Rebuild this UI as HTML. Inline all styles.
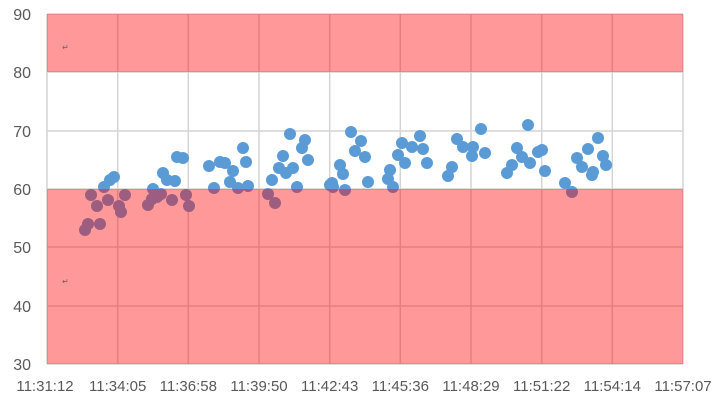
<!DOCTYPE html>
<html><head><meta charset="utf-8"><style>
html,body{margin:0;padding:0;background:#fff;}
svg{display:block;font-family:"Liberation Sans",sans-serif;}
</style></head><body>
<svg width="726" height="409" viewBox="0 0 726 409" xmlns="http://www.w3.org/2000/svg">
<g stroke="#d4d4d4" stroke-width="1.5">
<line x1="47" y1="14" x2="683" y2="14"/><line x1="47" y1="72" x2="683" y2="72"/>
<line x1="47" y1="131" x2="683" y2="131"/><line x1="47" y1="189" x2="683" y2="189"/>
<line x1="47" y1="247" x2="683" y2="247"/><line x1="47" y1="306" x2="683" y2="306"/>
<line x1="47" y1="364" x2="683" y2="364"/>
<line x1="47" y1="14" x2="47" y2="364"/><line x1="117.7" y1="14" x2="117.7" y2="364"/>
<line x1="188.3" y1="14" x2="188.3" y2="364"/><line x1="259" y1="14" x2="259" y2="364"/>
<line x1="329.7" y1="14" x2="329.7" y2="364"/><line x1="400.3" y1="14" x2="400.3" y2="364"/>
<line x1="471" y1="14" x2="471" y2="364"/><line x1="541.7" y1="14" x2="541.7" y2="364"/>
<line x1="612.3" y1="14" x2="612.3" y2="364"/><line x1="683" y1="14" x2="683" y2="364"/>
</g>
<g fill="#5b9bd5">
<circle cx="91" cy="195" r="6"/><circle cx="97" cy="206" r="6"/><circle cx="108" cy="200" r="6"/><circle cx="119" cy="206" r="6"/><circle cx="121" cy="212" r="6"/><circle cx="125" cy="195" r="6"/><circle cx="88" cy="224" r="6"/><circle cx="85" cy="230" r="6"/><circle cx="100" cy="224" r="6"/><circle cx="104" cy="187" r="6"/><circle cx="110" cy="180" r="6"/><circle cx="114" cy="177" r="6"/>
<circle cx="148" cy="205" r="6"/><circle cx="153" cy="189" r="6"/><circle cx="157" cy="197" r="6"/><circle cx="161" cy="194" r="6"/><circle cx="163" cy="173" r="6"/><circle cx="167" cy="180" r="6"/><circle cx="175" cy="181" r="6"/><circle cx="172" cy="200" r="6"/><circle cx="177" cy="157" r="6"/><circle cx="183" cy="158" r="6"/><circle cx="186" cy="195" r="6"/><circle cx="189" cy="206" r="6"/><circle cx="152" cy="199" r="6"/>
<circle cx="209" cy="166" r="6"/><circle cx="214" cy="188" r="6"/><circle cx="220" cy="162" r="6"/><circle cx="225" cy="163" r="6"/><circle cx="233" cy="171" r="6"/><circle cx="230" cy="182" r="6"/><circle cx="238" cy="188" r="6"/><circle cx="248" cy="186" r="6"/><circle cx="243" cy="148" r="6"/><circle cx="246" cy="162" r="6"/>
<circle cx="268" cy="194" r="6"/><circle cx="275" cy="203" r="6"/><circle cx="272" cy="180" r="6"/><circle cx="279" cy="168" r="6"/><circle cx="283" cy="156" r="6"/><circle cx="286" cy="173" r="6"/><circle cx="293" cy="168" r="6"/><circle cx="290" cy="134" r="6"/><circle cx="305" cy="140" r="6"/><circle cx="302" cy="148" r="6"/><circle cx="308" cy="160" r="6"/><circle cx="297" cy="187" r="6"/><circle cx="330" cy="185" r="6"/><circle cx="333" cy="187" r="6"/>
<circle cx="351" cy="132" r="6"/><circle cx="361" cy="141" r="6"/><circle cx="355" cy="151" r="6"/><circle cx="365" cy="157" r="6"/><circle cx="340" cy="165" r="6"/><circle cx="343" cy="174" r="6"/><circle cx="332" cy="183" r="6"/><circle cx="345" cy="190" r="6"/><circle cx="368" cy="182" r="6"/><circle cx="390" cy="170" r="6"/><circle cx="388" cy="179" r="6"/><circle cx="393" cy="187" r="6"/><circle cx="402" cy="143" r="6"/><circle cx="398" cy="155" r="6"/><circle cx="405" cy="163" r="6"/><circle cx="412" cy="147" r="6"/><circle cx="420" cy="136" r="6"/><circle cx="423" cy="149" r="6"/><circle cx="427" cy="163" r="6"/><circle cx="448" cy="176" r="6"/><circle cx="452" cy="167" r="6"/><circle cx="457" cy="139" r="6"/><circle cx="463" cy="147" r="6"/><circle cx="473" cy="147" r="6"/><circle cx="472" cy="156" r="6"/><circle cx="481" cy="129" r="6"/><circle cx="485" cy="153" r="6"/><circle cx="507" cy="173" r="6"/><circle cx="512" cy="165" r="6"/><circle cx="517" cy="148" r="6"/><circle cx="522" cy="157" r="6"/><circle cx="530" cy="163" r="6"/><circle cx="528" cy="125" r="6"/><circle cx="538" cy="152" r="6"/><circle cx="542" cy="150" r="6"/><circle cx="545" cy="171" r="6"/><circle cx="565" cy="183" r="6"/><circle cx="572" cy="192" r="6"/><circle cx="577" cy="158" r="6"/><circle cx="582" cy="167" r="6"/><circle cx="588" cy="149" r="6"/><circle cx="593" cy="172" r="6"/><circle cx="592" cy="175" r="6"/><circle cx="598" cy="138" r="6"/><circle cx="603" cy="156" r="6"/><circle cx="606" cy="165" r="6"/>
</g>
<rect x="47" y="14" width="636" height="58" fill="rgb(255,0,0)" fill-opacity="0.4"/>
<rect x="47" y="189" width="636" height="175" fill="rgb(255,0,0)" fill-opacity="0.4"/>
<text x="62" y="50" font-size="8" fill="#666">↵</text>
<text x="62" y="284" font-size="8" fill="#666">↵</text>
<g font-size="16" fill="#595959" text-anchor="end">
<text x="31" y="20">90</text><text x="31" y="78">80</text><text x="31" y="137">70</text><text x="31" y="195">60</text><text x="31" y="253">50</text><text x="31" y="312">40</text><text x="31" y="370">30</text>
</g>
<g font-size="15" fill="#595959" text-anchor="middle">
<text x="45" y="391">11:31:12</text><text x="117.7" y="391">11:34:05</text><text x="188.3" y="391">11:36:58</text><text x="259" y="391">11:39:50</text><text x="329.7" y="391">11:42:43</text><text x="400.3" y="391">11:45:36</text><text x="471" y="391">11:48:29</text><text x="541.7" y="391">11:51:22</text><text x="612.3" y="391">11:54:14</text><text x="683" y="391">11:57:07</text>
</g>
</svg>
</body></html>
